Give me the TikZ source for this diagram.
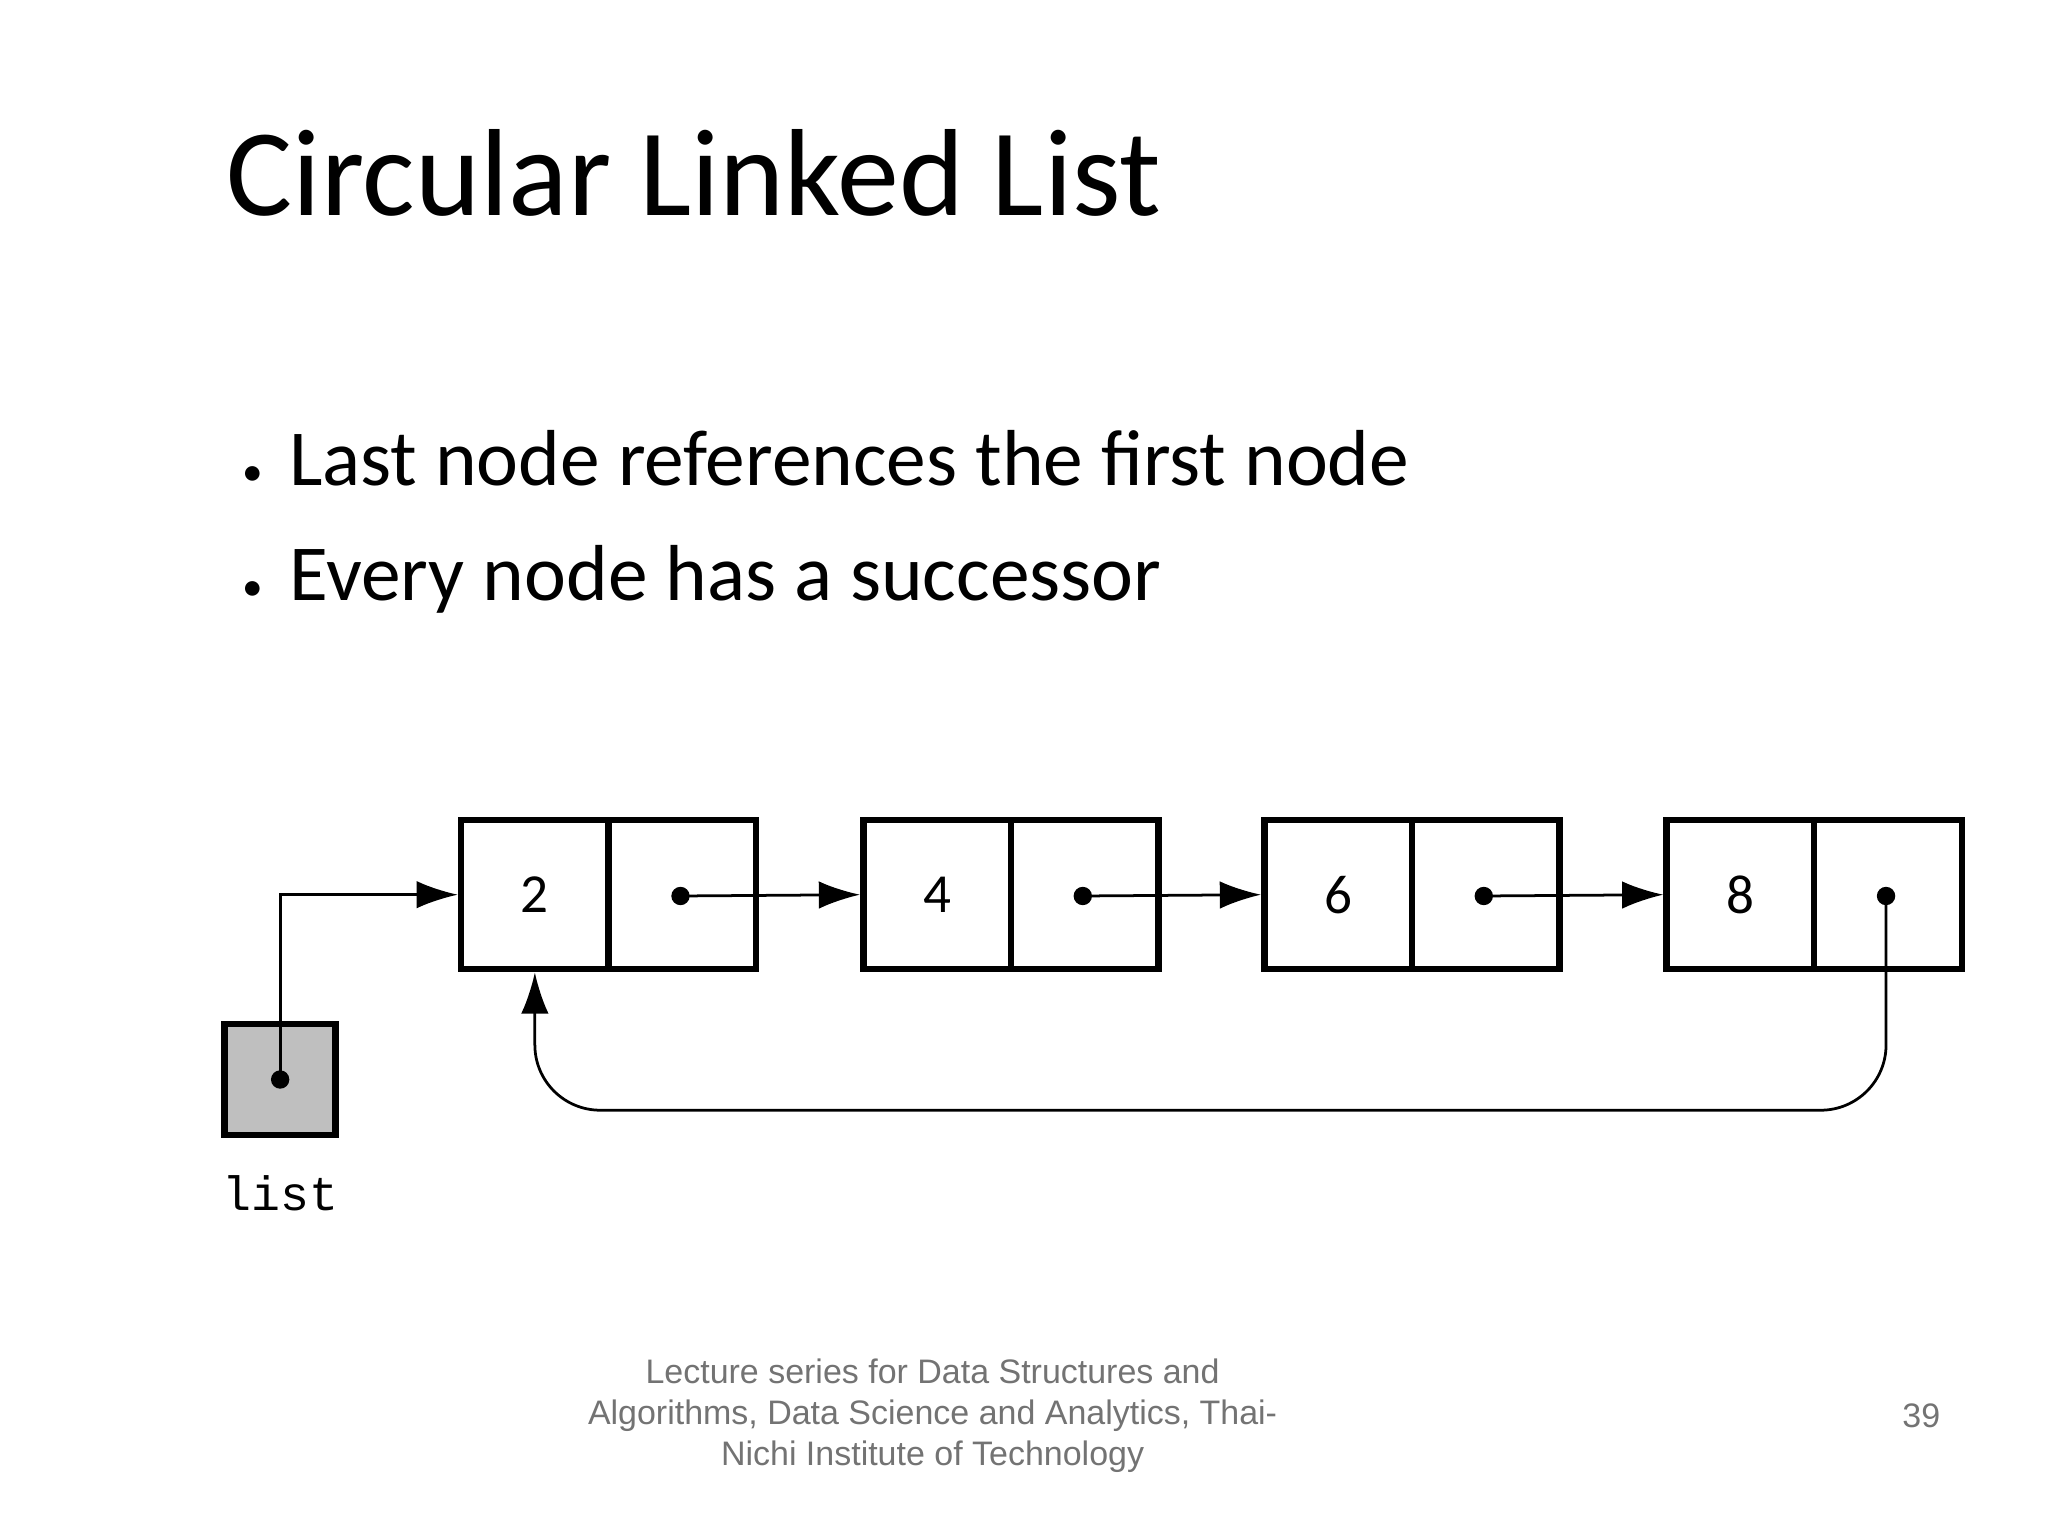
\documentclass[tikz,border=0pt]{standalone}
\usepackage{fontspec}
\setmainfont{Carlito}
\newfontfamily\footfont{Liberation Sans}
\newfontfamily\codefont{Liberation Mono}
\usetikzlibrary{arrows.meta}

\tikzset{
  cell/.style={draw, line width=1.4pt, minimum width=1.13cm, minimum height=1.14cm, inner sep=0pt, font=\fontsize{12}{14}\selectfont},
  link/.style={-{Latex[length=9pt,width=6pt]}, line width=0.6pt},
  dot/.style={circle, fill=black, inner sep=0pt, minimum size=4pt}
}

\begin{document}
\begin{tikzpicture}[x=1cm,y=1cm]
        \useasboundingbox (0,0) rectangle (15.68,-11.76);

        \node[anchor=base west, inner sep=0pt, font=\fontsize{27}{32}\selectfont] (title) at (1.73,-1.65) {Circular Linked List};
        \node[anchor=base west, inner sep=0pt, font=\fontsize{17.3}{21}\selectfont] (b1) at (1.85,-3.72) {{\small\textbullet}\hspace{0.2cm}Last node references the first node};
        \node[anchor=base west, inner sep=0pt, font=\fontsize{17.3}{21}\selectfont] (b2) at (1.85,-4.60) {{\small\textbullet}\hspace{0.2cm}Every node has a successor};

        % list nodes
        \node[cell] (d1) at (4.095,-6.85) {2};
        \node[cell] (p1) at (5.225,-6.85) {};
        \node[cell] (d2) at (7.175,-6.85) {4};
        \node[cell] (p2) at (8.305,-6.85) {};
        \node[cell] (d3) at (10.245,-6.85) {6};
        \node[cell] (p3) at (11.375,-6.85) {};
        \node[cell] (d4) at (13.325,-6.85) {8};
        \node[cell] (p4) at (14.455,-6.85) {};

        \node[dot] (n1) at (5.21,-6.86) {};
        \node[dot] (n2) at (8.29,-6.86) {};
        \node[dot] (n3) at (11.36,-6.86) {};
        \node[dot] (n4) at (14.44,-6.86) {};

        % head pointer
        \node[cell, fill=black!25, minimum width=0.85cm, minimum height=0.85cm] (head) at (2.145,-8.265) {};
        \node[dot] (h) at (head.center) {};
        \node[anchor=north, font=\codefont\fontsize{10.5}{12}\selectfont] (name) at (2.145,-8.88) {list};

        \draw[link] (h.center) |- (d1.west);
        \draw[link] (n1.center) -- (d2.west);
        \draw[link] (n2.center) -- (d3.west);
        \draw[link] (n3.center) -- (d4.west);
        \draw[link, rounded corners=0.5cm] (n4.center) |- (10,-8.5) -| (d1.south);

        % footer
        \node[align=center, text=black!55, font=\footfont\fontsize{7.4}{8.9}\selectfont] (foot) at (7.14,-10.84) {Lecture series for Data Structures and\\Algorithms, Data Science and Analytics, Thai-\\Nichi Institute of Technology};
        \node[text=black!55, font=\footfont\fontsize{7.4}{8.9}\selectfont] (page) at (14.71,-10.84) {39};
\end{tikzpicture}
\end{document}
